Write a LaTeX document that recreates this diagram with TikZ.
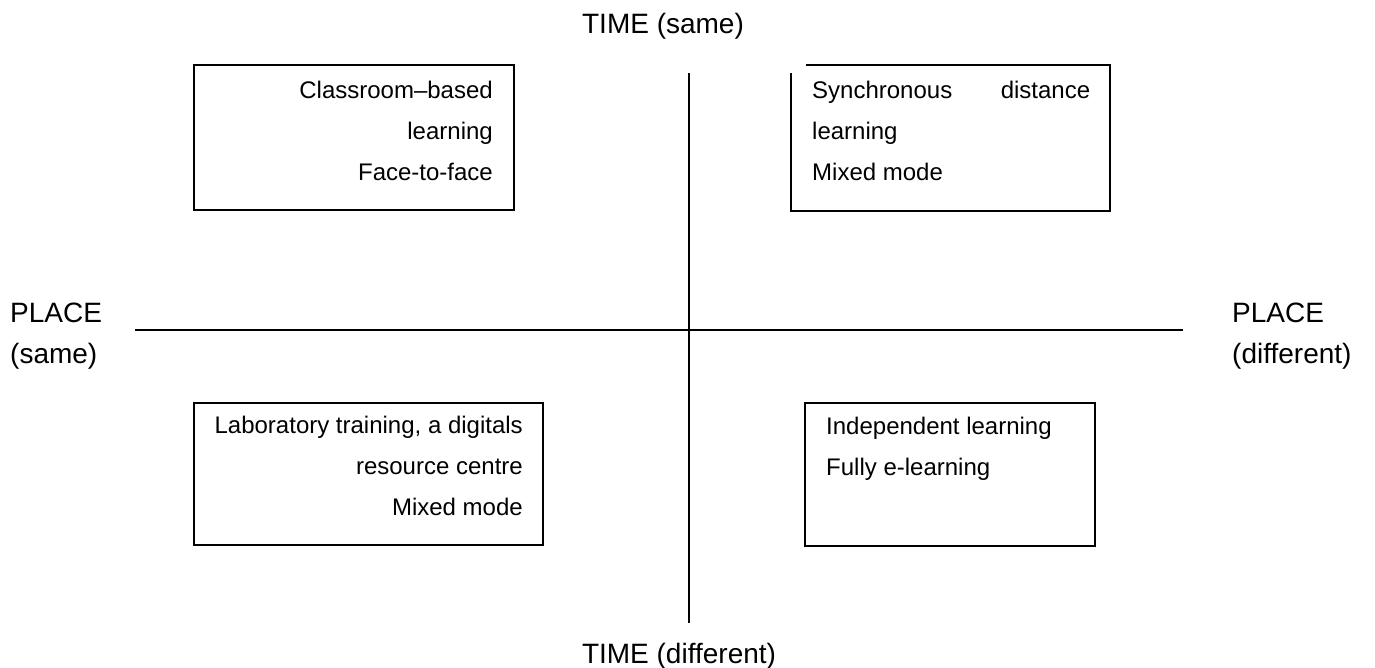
\documentclass[tikz,border=0pt]{standalone}
\usepackage{fontspec}
\setmainfont{Liberation Sans}
\begin{document}
\begin{tikzpicture}[x=1pt,y=-1pt,
  boxline/.style={draw, line width=1.4pt},
  box/.style={boxline, inner sep=0pt, outer sep=0pt, anchor=north west},
  axline/.style={line width=1.8pt},
  btxt/.style={font=\fontsize{24}{24}\selectfont, inner sep=0pt},
  ax/.style={font=\fontsize{28}{28}\selectfont, inner sep=0pt}]
\useasboundingbox[fill=white] (0,0) rectangle (1375,667);

% axes
\coordinate (vtop) at (689,73);
\coordinate (vbot) at (689,623);
\coordinate (hleft) at (135,330);
\coordinate (hright) at (1183,330);
\draw[axline] (vtop) -- (vbot);
\draw[axline] (hleft) -- (hright);

% axis labels
\node[ax, anchor=base] (timesame) at (663,33) {TIME (same)};
\node[ax, anchor=base] (timediff) at (679,663) {TIME (different)};
\node[ax, anchor=base west] (placeL1) at (10,322) {PLACE};
\node[ax, anchor=base west] (placeL2) at (10,363) {(same)};
\node[ax, anchor=base west] (placeR1) at (1232,322) {PLACE};
\node[ax, anchor=base west] (placeR2) at (1232,363) {(different)};

% box 1 (top left)
\node[box, minimum width=320pt, minimum height=145pt] (b1) at (194,65) {};
\node[btxt, anchor=base east] (b1a) at (493,98) {Classroom–based};
\node[btxt, anchor=base east] (b1b) at (493,139) {learning};
\node[btxt, anchor=base east] (b1c) at (493,180) {Face-to-face};

% box 2 (top right) with open corner
\coordinate (b2tl) at (806,65);
\coordinate (b2tr) at (1110,65);
\coordinate (b2br) at (1110,211);
\coordinate (b2bl) at (791,211);
\coordinate (b2lt) at (791,73);
\draw[boxline] (b2tl) -- (b2tr) -- (b2br) -- (b2bl) -- (b2lt);
\node[btxt, anchor=base west] (b2a) at (812,98) {\makebox[278pt][l]{Synchronous\hfill distance}};
\node[btxt, anchor=base west] (b2b) at (812,139) {learning};
\node[btxt, anchor=base west] (b2c) at (812,180) {Mixed mode};

% box 3 (bottom left)
\node[box, minimum width=349pt, minimum height=142pt] (b3) at (194,403) {};
\node[btxt, anchor=base east] (b3a) at (523,433) {Laboratory training, a digitals};
\node[btxt, anchor=base east] (b3b) at (523,474) {resource centre};
\node[btxt, anchor=base east] (b3c) at (523,515) {Mixed mode};

% box 4 (bottom right)
\node[box, minimum width=290pt, minimum height=143pt] (b4) at (805,403) {};
\node[btxt, anchor=base west] (b4a) at (826,434) {Independent learning};
\node[btxt, anchor=base west] (b4b) at (826,475) {Fully e-learning};
\end{tikzpicture}
\end{document}
